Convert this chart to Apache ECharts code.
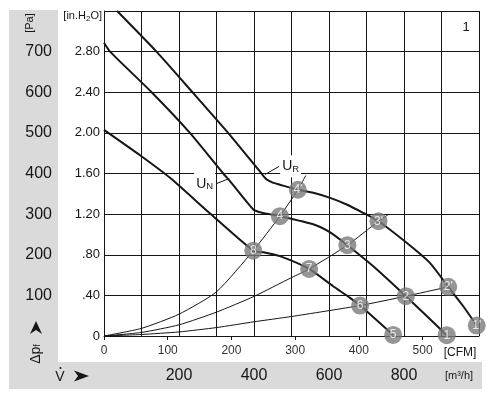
<!DOCTYPE html>
<html>
<head>
<meta charset="utf-8">
<script src="https://cdn.jsdelivr.net/npm/echarts@6/dist/echarts.min.js"></script>
<style>
html,body{margin:0;padding:0;background:#fff;}
#chart{width:492px;height:398px;}
</style>
</head>
<body>
<div id="chart"></div>
<script>
// fan curves, x = m3/h, y = in.H2O
var curveUR = [[35,3.2],[140,2.8],[236,2.4],[331,2.0],[420,1.6],[434,1.54],[450,1.51],[469,1.49],[517,1.44],[558,1.41],[603,1.36],[647,1.295],[691,1.213],[732,1.13],[807,0.918],[869,0.72],[918,0.484],[958,0.293],[994,0.103]];
var curveUN = [[0,2.887],[16,2.8],[127,2.4],[229,2.0],[318,1.6],[336,1.524],[398,1.246],[416,1.219],[440,1.2],[469,1.18],[558,1.10],[603,1.02],[649,0.894],[718,0.687],[805,0.392],[914,0.008]];
var curveLow = [[0,2.03],[96,1.78],[176,1.558],[283,1.206],[398,0.84],[425,0.825],[469,0.786],[547,0.66],[611,0.49],[656,0.376],[683,0.30],[771,0.01]];
// system curves (thin)
var sysA = [[0,0],[100,0.075],[200,0.215],[300,0.435],[398,0.84],[469,1.18],[517,1.44],[538,1.58]];
var sysB = [[0,0],[100,0.035],[200,0.11],[300,0.235],[400,0.39],[500,0.575],[547,0.66],[649,0.894],[732,1.13],[760,1.2]];
var sysC = [[0,0],[100,0.015],[200,0.04],[300,0.083],[400,0.14],[500,0.192],[683,0.30],[805,0.392],[918,0.484]];
// operating points
var pointNames = ['1','2','3','4','5','6','7','8',"1'","2'","3'","4'"];
var pointX = [914,805,649,469,771,683,547,398,994,918,732,517];
var pointY = [0.008,0.392,0.894,1.18,0.01,0.30,0.66,0.84,0.103,0.484,1.13,1.44];
// leader lines for U_R / U_N labels
var leaderUR = [[429,1.59],[467,1.67]];
var leaderUN = [[334,1.55],[299,1.50]];
// tick labels
var m3hLabels = [200,400,600,800];
var paLabels = [100,200,300,400,500,600,700];

var FONT = "'Liberation Sans', Arial, sans-serif";
var INK = '#161616';

var chart = echarts.init(document.getElementById('chart'));

var points = [];
for (var i = 0; i < pointNames.length; i++) {
	points.push({name: pointNames[i], value: [pointX[i], pointY[i]]});
}

function curve(data, w) {
	return {type: 'line', data: data, symbol: 'none', smooth: 0.2, silent: true,
		lineStyle: {color: INK, width: w}, z: w > 1 ? 4 : 3};
}

function leader(data, txt, pos) {
	var d = [data[0], {value: data[1], label: {show: true, position: pos, distance: 1,
		formatter: txt, backgroundColor: '#fff', padding: [3, 2, 3, 2],
		rich: {u: {fontSize: 14, fontFamily: FONT, color: INK},
			s: {fontSize: 9.5, fontFamily: FONT, color: INK, padding: [6, 0, 0, 0]}}}}];
	return {type: 'line', data: d, symbol: 'circle', symbolSize: 0, showSymbol: true, silent: true, z: 5,
		itemStyle: {color: INK}, lineStyle: {color: INK, width: 1}};
}

var option = {
	animation: false,
	backgroundColor: '#fff',
	grid: {left: 104, right: 13, top: 11, bottom: 62},
	xAxis: [{
		type: 'value', min: 0, max: 1000, interval: 100,
		axisLine: {show: true, lineStyle: {color: INK}},
		axisTick: {show: false},
		splitLine: {show: true, lineStyle: {color: INK, width: 1}},
		axisLabel: {margin: 32, fontSize: 16, fontFamily: FONT, color: INK,
			formatter: function (v) { return m3hLabels.indexOf(v) >= 0 ? String(v) : ''; }}
	}, {
		type: 'value', min: 0, max: 1000 / 1.699, interval: 100, position: 'bottom',
		axisLine: {show: false},
		axisTick: {show: true, length: 4, lineStyle: {color: INK}},
		splitLine: {show: false},
		axisLabel: {margin: 9, fontSize: 12, fontFamily: FONT, color: '#333'}
	}],
	yAxis: [{
		type: 'value', min: 0, max: 3.2, interval: 0.4,
		axisLine: {show: true, lineStyle: {color: INK}},
		axisTick: {show: false},
		splitLine: {show: true, lineStyle: {color: INK, width: 1}},
		axisLabel: {margin: 4, fontSize: 13, fontFamily: FONT, color: INK,
			formatter: function (v) {
				if (v === 0) return '0';
				if (v > 3.1) return '';
				var s = v.toFixed(2);
				return v < 1 ? s.slice(1) : s;
			}}
	}, {
		type: 'value', min: 0, max: 800, interval: 100, position: 'left', offset: 52,
		axisLine: {show: false}, axisTick: {show: false}, splitLine: {show: false},
		axisLabel: {margin: 0, fontSize: 16, fontFamily: FONT, color: INK,
			formatter: function (v) { return paLabels.indexOf(v) >= 0 ? String(v) : ''; }}
	}],
	graphic: [
		{type: 'rect', z: -10, shape: {x: 9, y: 10, width: 49, height: 379}, style: {fill: '#dadada'}},
		{type: 'rect', z: -10, shape: {x: 9, y: 362, width: 473, height: 27}, style: {fill: '#dadada'}},
		{type: 'text', x: 30, y: 23, rotation: Math.PI / 2,
			style: {text: '[Pa]', font: '11px ' + FONT, fill: INK, align: 'center', verticalAlign: 'middle'}},
		{type: 'text', x: 102, y: 16,
			style: {text: '[in.H{s|2}O]', font: '11px ' + FONT, fill: INK, align: 'right', verticalAlign: 'middle',
				rich: {s: {fontSize: 8, fontFamily: FONT, fill: INK, padding: [5, 0, 0, 0]}}}},
		{type: 'text', x: 466, y: 27,
			style: {text: '1', font: '13px ' + FONT, fill: INK, align: 'center', verticalAlign: 'middle'}},
		{type: 'text', x: 460, y: 353,
			style: {text: '[CFM]', font: '12px ' + FONT, fill: INK, align: 'center', verticalAlign: 'middle'}},
		{type: 'text', x: 459, y: 376,
			style: {text: '[m³/h]', font: '11px ' + FONT, fill: INK, align: 'center', verticalAlign: 'middle'}},
		{type: 'text', x: 60, y: 377,
			style: {text: 'V', font: '14px ' + FONT, fill: INK, align: 'center', verticalAlign: 'middle'}},
		{type: 'circle', shape: {cx: 60.5, cy: 368, r: 1}, style: {fill: INK}},
		{type: 'polygon', shape: {points: [[74, 370.5], [89, 376], [74, 381.5], [78, 376]]}, style: {fill: INK}},
		{type: 'group', x: 36, y: 343, rotation: Math.PI / 2, children: [
			{type: 'text', x: -11, y: 0,
				style: {text: 'Δp{f|f}', font: '14px ' + FONT, fill: INK, align: 'center', verticalAlign: 'middle',
					rich: {f: {fontSize: 9, fontFamily: FONT, fill: INK, padding: [4, 0, 0, 0]}}}},
			{type: 'polygon', shape: {points: [[9, -6], [22, 0], [9, 6], [13, 0]]}, style: {fill: INK}}
		]}
	],
	series: [
		curve(curveUR, 2), curve(curveUN, 2), curve(curveLow, 2),
		curve(sysA, 1), curve(sysB, 1), curve(sysC, 1),
		leader(leaderUR, '{u|U}{s|R}', 'right'),
		leader(leaderUN, '{u|U}{s|N}', 'left'),
		{
			type: 'scatter', data: points, symbolSize: 18, clip: false, z: 6, silent: true,
			itemStyle: {color: '#7b7b7b'},
			label: {show: true, position: 'inside', formatter: '{b}', color: '#fff', fontSize: 12, fontFamily: FONT}
		}
	]
};
chart.setOption(option);
</script>
</body>
</html>
